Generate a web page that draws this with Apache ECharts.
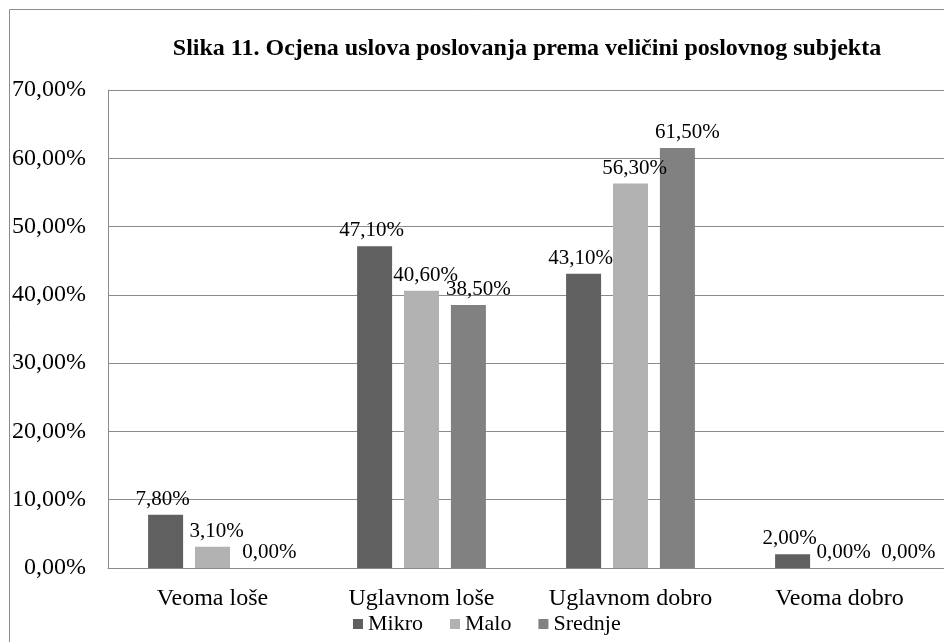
<!DOCTYPE html>
<html>
<head>
<meta charset="utf-8">
<script src="https://cdn.jsdelivr.net/npm/echarts@6/dist/echarts.min.js"></script>
<style>
    html, body { margin: 0; padding: 0; background: #fff; }
    #main { width: 944px; height: 642px; }
</style>
</head>
<body>
<div id="main"></div>
<script>
    // kategorije i vrijednosti (u %)
    var categories = ['Veoma loše', 'Uglavnom loše', 'Uglavnom dobro', 'Veoma dobro'];
    var mikro = [7.8, 47.1, 43.1, 2.0];
    var malo = [3.1, 40.6, 56.3, 0.0];
    var srednje = [0.0, 38.5, 61.5, 0.0];
    var seriesNames = ['Mikro', 'Malo', 'Srednje'];

    var font = '"Liberation Serif", "Times New Roman", serif';

    function fmt(v) {
        return v.toFixed(2).replace('.', ',') + '%';
    }

    var myChart = echarts.init(document.getElementById('main'));

    function makeSeries(name, data, color, dx) {
        return {
            name: name,
            type: 'bar',
            data: data,
            barWidth: 35,
            barGap: '34%',
            itemStyle: { color: color },
            label: {
                show: true,
                position: 'top',
                distance: 5,
                offset: [dx, 0],
                color: '#000',
                fontFamily: font,
                fontSize: 21,
                formatter: function (p) { return fmt(p.value); }
            }
        };
    }

    var sMikro = makeSeries(seriesNames[0], mikro, '#606060', -3);
    var sMalo = makeSeries(seriesNames[1], malo, '#b2b2b2', 4);
    var sSrednje = makeSeries(seriesNames[2], srednje, '#818181', 0);
    // natpisi Srednje malo udesno; u zadnjoj kategoriji jos vise da se 0,00% ne preklope
    sSrednje.labelLayout = function (p) {
        return { dx: p.dataIndex === categories.length - 1 ? 22 : 10 };
    };

    var option = {
        animation: false,
        title: {
            text: 'Slika 11. Ocjena uslova poslovanja prema veličini poslovnog subjekta',
            left: 522,
            textAlign: 'center',
            top: 32,
            textStyle: {
                fontFamily: font,
                fontSize: 24,
                fontWeight: 'bold',
                color: '#000'
            }
        },
        graphic: [{
            type: 'rect',
            shape: { x: 9.5, y: 9.5, width: 1000, height: 1000 },
            style: { fill: 'none', stroke: '#8c8c8c', lineWidth: 1 },
            silent: true
        }],
        legend: {
            left: 348,
            top: 608,
            itemWidth: 10,
            itemHeight: 10,
            itemGap: 27,
            icon: 'rect',
            textStyle: { fontFamily: font, fontSize: 22, color: '#000' },
            data: seriesNames
        },
        grid: {
            left: 108,
            top: 90,
            width: 848,
            height: 478,
            containLabel: false
        },
        xAxis: {
            type: 'category',
            data: categories,
            axisLine: { lineStyle: { color: '#8c8c8c' } },
            axisTick: { show: false },
            axisLabel: { interval: 0, color: '#000', fontFamily: font, fontSize: 24, margin: 19 }
        },
        yAxis: {
            type: 'value',
            min: 0,
            max: 70,
            interval: 10,
            axisLine: { show: true, lineStyle: { color: '#8c8c8c' } },
            axisTick: { show: false },
            splitLine: { lineStyle: { color: '#8c8c8c' } },
            axisLabel: {
                color: '#000',
                fontFamily: font,
                fontSize: 24,
                margin: 22,
                formatter: function (v) { return fmt(v); }
            }
        },
        series: [sMikro, sMalo, sSrednje]
    };

    myChart.setOption(option);
</script>
</body>
</html>
